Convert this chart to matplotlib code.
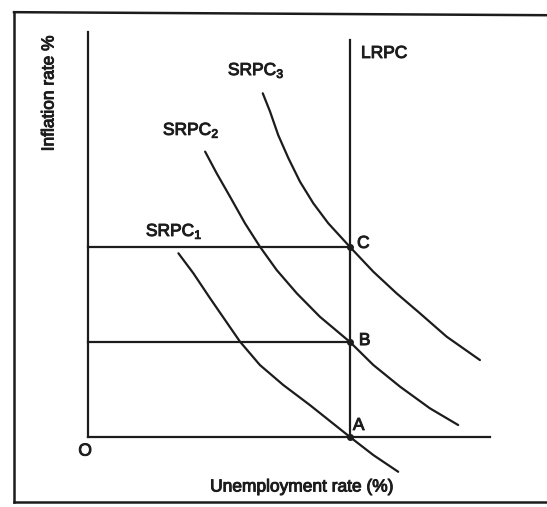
import matplotlib.pyplot as plt
import matplotlib.patheffects as pe
from matplotlib.lines import Line2D

plt.rcParams['font.family'] = ['Liberation Sans', 'DejaVu Sans']
plt.rcParams['mathtext.fontset'] = 'custom'
plt.rcParams['mathtext.rm'] = 'Liberation Sans'

ink = '#1c1c1c'

# natural rate of unemployment and the two expected-inflation levels
u_natural = 10.0
infl_levels = [5.0, 10.0]          # B, C
equilibria_u = [10.0, 10.0, 10.0]  # A, B, C
equilibria_pi = [0.0, 5.0, 10.0]
equilibria_names = ['A', 'B', 'C']

# short-run Phillips curves
srpc1_u = [3.45, 4.02, 4.66, 5.23, 5.80, 6.56, 7.45, 8.47, 10.0, 10.89, 11.84]
srpc1_pi = [9.67, 8.62, 7.30, 6.16, 5.02, 3.79, 2.74, 1.68, 0.0, -0.95, -1.83]
srpc2_u = [4.47, 4.91, 5.42, 5.99, 6.56, 7.20, 7.97, 8.85, 10.0, 10.89, 11.91, 13.05, 14.13]
srpc2_pi = [15.02, 13.88, 12.65, 11.25, 10.02, 8.79, 7.56, 6.33, 5.0, 3.79, 2.65, 1.51, 0.63]
srpc3_u = [6.67, 6.95, 7.26, 7.65, 8.09, 8.60, 9.17, 10.0, 10.89, 11.78, 12.67, 13.69, 14.96]
srpc3_pi = [18.09, 17.12, 15.89, 14.67, 13.44, 12.30, 11.25, 10.0, 8.70, 7.56, 6.51, 5.28, 4.05]

x_axis_end = 15.34
y_axis_top = 21.3
lrpc_top = 20.9

fig = plt.figure(figsize=(5.47, 5.07), dpi=100, facecolor='white')
ax = fig.add_axes([0, 0, 1, 1])
ax.set_xlim(-3.36, 17.52)
ax.set_ylim(-3.684, 23.0)
ax.axis('off')

lw = 1.6
# axes
ax.plot([0, 0], [0, y_axis_top], color=ink, lw=lw)
ax.plot([0, x_axis_end], [0, 0], color=ink, lw=lw)
# LRPC
ax.plot([u_natural, u_natural], [0, lrpc_top], color=ink, lw=lw)
# expected inflation levels
for lvl in infl_levels:
    ax.plot([0, u_natural], [lvl, lvl], color=ink, lw=lw)

# SRPC curves
for cu, cp in [(srpc1_u, srpc1_pi), (srpc2_u, srpc2_pi), (srpc3_u, srpc3_pi)]:
    ax.plot(cu, cp, color=ink, lw=lw, solid_capstyle='round', solid_joinstyle='round')

ax.plot(equilibria_u, equilibria_pi, 'o', color=ink, ms=4)

fs = 12.5
bold_fx = [pe.withStroke(linewidth=0.7, foreground=ink)]
txt = dict(fontsize=fs, color=ink, path_effects=bold_fx)

ax.text(5.34, 19.05, r'SRPC$_{\mathregular{3}}$', va='baseline', **txt)
ax.text(2.86, 15.9, r'SRPC$_{\mathregular{2}}$', va='baseline', **txt)
ax.text(2.21, 10.58, r'SRPC$_{\mathregular{1}}$', va='baseline', **txt)
ax.text(10.42, 19.95, 'LRPC', va='baseline', **txt)

label_pos = {'A': (10.11, 0.37), 'B': (10.34, 4.84), 'C': (10.27, 9.95)}
for name in equilibria_names:
    x, y = label_pos[name]
    ax.text(x, y, name, va='baseline', **txt)

ax.text(-0.11, -0.74, 'O', ha='center', va='center', **txt)
ax.text(8.17, -2.63, 'Unemployment rate (%)', ha='center', va='center', **txt)
ax.text(-1.49, 18.1, 'Inflation rate %', rotation=90, ha='center', va='center', **txt)

# outer frame of the scanned figure
fig.add_artist(Line2D([0.0256, 1.0], [0.976, 0.970], color=ink, lw=1.8))
fig.add_artist(Line2D([0.0256, 0.0256], [0.976, 0.0099], color=ink, lw=1.8))
fig.add_artist(Line2D([0.0256, 1.0], [0.0099, 0.0099], color=ink, lw=1.8))

plt.savefig('out.png', dpi=100, facecolor='white')
